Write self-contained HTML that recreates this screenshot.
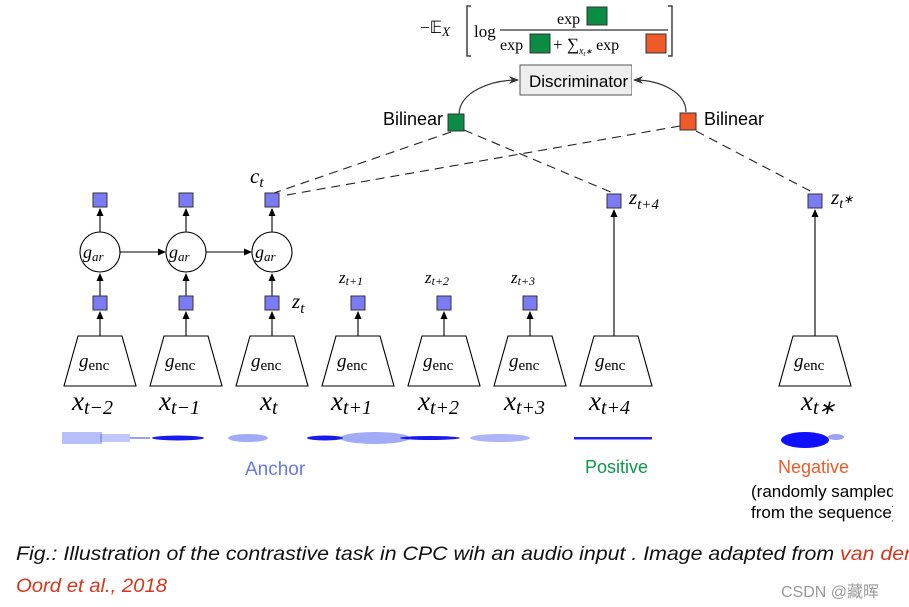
<!DOCTYPE html>
<html><head><meta charset="utf-8"><style>
html,body{margin:0;padding:0;background:#fff;width:909px;height:607px;overflow:hidden}
svg{display:block}
.m{font-family:"Liberation Serif",serif;font-style:italic}
.r{font-family:"Liberation Serif",serif}
.s{font-family:"Liberation Sans","Noto Sans CJK SC",sans-serif}
</style></head><body>
<svg width="909" height="607" viewBox="0 0 909 607" xmlns="http://www.w3.org/2000/svg">
<defs>
<marker id="a" markerWidth="8" markerHeight="8" refX="7" refY="4" orient="auto" markerUnits="userSpaceOnUse">
<path d="M0,0.5 L8,4 L0,7.5 Z" fill="#000"/></marker>
<marker id="b" markerWidth="10" markerHeight="10" refX="9" refY="5" orient="auto" markerUnits="userSpaceOnUse">
<path d="M0,1 L10,5 L0,9 L3,5 Z" fill="#333"/></marker>
<clipPath id="c"><rect x="0" y="0" width="893" height="607"/></clipPath>
</defs>
<!-- formula -->
<text x="420" y="33" class="r" font-size="17">−𝔼<tspan class="m" font-size="13" dy="3">X</tspan></text>
<path d="M471,6 H467 V56 H471" fill="none" stroke="#222" stroke-width="1.3"/>
<path d="M668,6 H672 V56 H668" fill="none" stroke="#222" stroke-width="1.3"/>
<text x="474" y="37" class="r" font-size="17">log</text>
<line x1="500" y1="30" x2="668" y2="30" stroke="#000" stroke-width="1"/>
<text x="557" y="24" class="r" font-size="16">exp</text>
<rect x="587" y="7" width="20" height="18" fill="#0a8c45" stroke="#333"/>
<text x="500" y="50" class="r" font-size="16">exp</text>
<rect x="530" y="34" width="20" height="19" fill="#0a8c45" stroke="#333"/>
<text x="553" y="50" class="r" font-size="17">+ ∑<tspan class="m" font-size="10" dy="4">x</tspan><tspan class="m" font-size="7" dy="2">t</tspan><tspan class="m" font-size="8" dy="-2">∗</tspan><tspan font-size="16" dy="-4"> exp</tspan></text>
<rect x="646" y="34" width="20" height="19" fill="#f05a28" stroke="#333"/>
<!-- discriminator -->
<rect x="520" y="65" width="112" height="30" fill="#eeeeee" stroke="#555"/>
<text x="529" y="87" class="s" font-size="17" fill="#000">Discriminator</text>
<rect x="632" y="64" width="4" height="32" fill="#fff"/>
<path d="M459,114 C460,92 490,80 518,80" fill="none" stroke="#333" stroke-width="1.2" marker-end="url(#b)"/>
<path d="M686,112 C686,92 660,80 634,80" fill="none" stroke="#333" stroke-width="1.2" marker-end="url(#b)"/>
<!-- bilinear -->
<text x="383" y="125" class="s" font-size="18">Bilinear</text>
<rect x="448" y="114" width="16" height="17" fill="#0a8c45" stroke="#333"/>
<rect x="680" y="113" width="16" height="17" fill="#f05a28" stroke="#333"/>
<text x="704" y="125" class="s" font-size="18">Bilinear</text>
<!-- dashed -->
<g stroke="#222" stroke-width="1.1" stroke-dasharray="9,6" fill="none">
<line x1="451" y1="132" x2="274" y2="193"/>
<line x1="464" y1="130" x2="613" y2="193"/>
<line x1="680" y1="126" x2="281" y2="196"/>
<line x1="696" y1="131" x2="814" y2="193"/>
</g>
<text x="250" y="183" class="m" font-size="21">c<tspan font-size="15" dy="4">t</tspan></text>
<g stroke="#000" stroke-width="1.1" fill="none">
<line x1="100" y1="336" x2="100" y2="312" marker-end="url(#a)"/>
<line x1="100" y1="296" x2="100" y2="274" marker-end="url(#a)"/>
<line x1="100" y1="232" x2="100" y2="209" marker-end="url(#a)"/>
<line x1="186" y1="336" x2="186" y2="312" marker-end="url(#a)"/>
<line x1="186" y1="296" x2="186" y2="274" marker-end="url(#a)"/>
<line x1="186" y1="232" x2="186" y2="209" marker-end="url(#a)"/>
<line x1="272" y1="336" x2="272" y2="312" marker-end="url(#a)"/>
<line x1="272" y1="296" x2="272" y2="274" marker-end="url(#a)"/>
<line x1="272" y1="232" x2="272" y2="209" marker-end="url(#a)"/>
<line x1="120" y1="252" x2="165" y2="252" marker-end="url(#a)"/>
<line x1="206" y1="252" x2="251" y2="252" marker-end="url(#a)"/>
<line x1="358" y1="336" x2="358" y2="312" marker-end="url(#a)"/>
<line x1="444" y1="336" x2="444" y2="312" marker-end="url(#a)"/>
<line x1="530" y1="336" x2="530" y2="312" marker-end="url(#a)"/>
<line x1="614" y1="336" x2="614" y2="210" marker-end="url(#a)"/>
<line x1="815" y1="336" x2="815" y2="210" marker-end="url(#a)"/>
<circle cx="100" cy="252" r="20" fill="#fff"/>
<circle cx="186" cy="252" r="20" fill="#fff"/>
<circle cx="272" cy="252" r="20" fill="#fff"/>
</g>
<g fill="#7b7bf5" stroke="#333" stroke-width="1">
<rect x="93" y="193" width="14" height="14"/><rect x="179" y="193" width="14" height="14"/><rect x="265" y="193" width="14" height="14"/>
<rect x="93" y="296" width="14" height="14"/><rect x="179" y="296" width="14" height="14"/><rect x="265" y="296" width="14" height="14"/>
<rect x="351" y="296" width="14" height="14"/><rect x="437" y="296" width="14" height="14"/><rect x="523" y="296" width="14" height="14"/>
<rect x="607" y="194" width="14" height="14"/><rect x="808" y="194" width="14" height="14"/>
</g>
<g class="m" font-size="18">
<text x="83" y="258">g<tspan font-size="13" dy="3">ar</tspan></text>
<text x="169" y="258">g<tspan font-size="13" dy="3">ar</tspan></text>
<text x="255" y="258">g<tspan font-size="13" dy="3">ar</tspan></text>
</g>
<text x="292" y="308" class="m" font-size="21">z<tspan font-size="15" dy="5">t</tspan></text>
<text x="339" y="283" class="m" font-size="17">z<tspan font-size="12" dy="2">t+1</tspan></text>
<text x="425" y="283" class="m" font-size="17">z<tspan font-size="12" dy="2">t+2</tspan></text>
<text x="511" y="283" class="m" font-size="17">z<tspan font-size="12" dy="2">t+3</tspan></text>
<text x="629" y="204" class="m" font-size="21">z<tspan font-size="15" dy="5">t+4</tspan></text>
<text x="831" y="204" class="m" font-size="21">z<tspan font-size="14" dy="4">t</tspan><tspan font-size="12" dy="-5">∗</tspan></text>
<g fill="#fff" stroke="#000" stroke-width="1.1">
<path d="M78,336 H122 L136,386 H64 Z"/>
<path d="M164,336 H208 L222,386 H150 Z"/>
<path d="M250,336 H294 L308,386 H236 Z"/>
<path d="M336,336 H380 L394,386 H322 Z"/>
<path d="M422,336 H466 L480,386 H408 Z"/>
<path d="M508,336 H552 L566,386 H494 Z"/>
<path d="M594,336 H638 L652,386 H580 Z"/>
<path d="M793,336 H837 L851,386 H779 Z"/>
</g>
<g class="r" font-size="19">
<text x="79" y="367"><tspan class="m">g</tspan><tspan font-size="15" dy="3">enc</tspan></text>
<text x="165" y="367"><tspan class="m">g</tspan><tspan font-size="15" dy="3">enc</tspan></text>
<text x="251" y="367"><tspan class="m">g</tspan><tspan font-size="15" dy="3">enc</tspan></text>
<text x="337" y="367"><tspan class="m">g</tspan><tspan font-size="15" dy="3">enc</tspan></text>
<text x="423" y="367"><tspan class="m">g</tspan><tspan font-size="15" dy="3">enc</tspan></text>
<text x="509" y="367"><tspan class="m">g</tspan><tspan font-size="15" dy="3">enc</tspan></text>
<text x="595" y="367"><tspan class="m">g</tspan><tspan font-size="15" dy="3">enc</tspan></text>
<text x="794" y="367"><tspan class="m">g</tspan><tspan font-size="15" dy="3">enc</tspan></text>
</g>
<g class="m" font-size="27">
<text x="72" y="410">x<tspan class="r" font-size="20" dy="4">t−2</tspan></text>
<text x="159" y="410">x<tspan class="r" font-size="20" dy="4">t−1</tspan></text>
<text x="260" y="410">x<tspan class="r" font-size="20" dy="4">t</tspan></text>
<text x="331" y="410">x<tspan class="r" font-size="20" dy="4">t+1</tspan></text>
<text x="418" y="410">x<tspan class="r" font-size="20" dy="4">t+2</tspan></text>
<text x="504" y="410">x<tspan class="r" font-size="20" dy="4">t+3</tspan></text>
<text x="589" y="410">x<tspan class="r" font-size="20" dy="4">t+4</tspan></text>
<text x="801" y="410">x<tspan class="r" font-size="20" dy="4">t∗</tspan></text>
</g>
<g fill="#3344ee">
<rect x="62" y="432" width="40" height="12" opacity="0.35"/>
<rect x="100" y="434" width="30" height="8" opacity="0.3"/>
<rect x="130" y="437" width="20" height="2" opacity="0.5"/>
<ellipse cx="178" cy="438" rx="26" ry="2.5" fill="#1a1aee"/>
<ellipse cx="248" cy="438" rx="20" ry="4" opacity="0.45"/>
<ellipse cx="325" cy="438" rx="18" ry="2.5" fill="#1a1aee"/>
<ellipse cx="375" cy="438" rx="35" ry="6" opacity="0.45"/>
<ellipse cx="430" cy="438" rx="30" ry="2" fill="#1a1aee"/>
<ellipse cx="500" cy="438" rx="30" ry="4" opacity="0.4"/>
<rect x="574" y="437" width="78" height="2.5" fill="#2222ee"/>
<ellipse cx="805" cy="440" rx="24" ry="8" fill="#1010ff"/>
<ellipse cx="836" cy="437" rx="8" ry="3" opacity="0.5"/>
</g>
<text x="245" y="475" class="s" font-size="19" fill="#6677ee">Anchor</text>
<text x="585" y="473" class="s" font-size="18" fill="#0a9a48">Positive</text>
<text x="778" y="473" class="s" font-size="18" fill="#f05a28">Negative</text>
<g clip-path="url(#c)">
<text x="751" y="497" class="s" font-size="17">(randomly sampled</text>
<text x="751" y="518" class="s" font-size="17">from the sequence)</text>
</g>
<text x="16" y="560" class="s" font-size="19" font-style="italic" fill="#111" textLength="900" lengthAdjust="spacingAndGlyphs">Fig.: Illustration of the contrastive task in CPC wih an audio input . Image adapted from <tspan fill="#d8361c">van den</tspan></text>
<text x="16" y="592" class="s" font-size="19" font-style="italic" fill="#d8361c" textLength="151" lengthAdjust="spacingAndGlyphs">Oord et al., 2018</text>
<text x="781" y="597" class="s" font-size="16" fill="#999">CSDN @藏晖</text>
</svg>
</body></html>
